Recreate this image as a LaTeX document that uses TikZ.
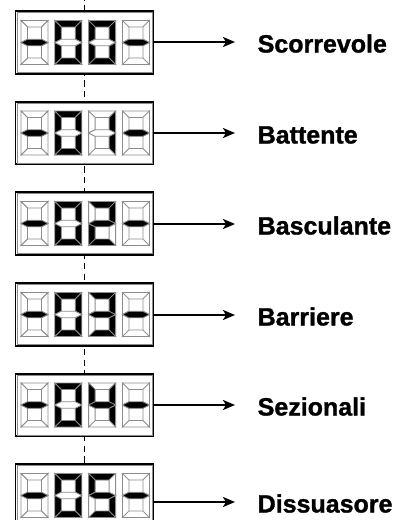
\documentclass[tikz,border=0pt]{standalone}
\usepackage{fontspec}
\setmainfont{Liberation Sans}
\newfontfamily\labfont[FakeBold=1.2]{Liberation Sans Bold}
\usetikzlibrary{arrows.meta}
\tikzset{
  seg0/.style={fill=white, draw=black!45, line width=0.8pt, line join=miter},
  seg1/.style={fill=black, draw=black!45, line width=0.8pt, line join=miter},
  dbox/.style={draw=black, line width=1.8pt, fill=white, rectangle, minimum width=138pt, minimum height=62.5pt, inner sep=0pt},
  innerline/.style={draw=black!45, line width=0.7pt},
  dashline/.style={draw=black, line width=1pt, dash pattern=on 6.5pt off 4.25pt, dash phase=6pt},
  arr/.style={draw=black, line width=2pt, -{Stealth[length=12pt, width=10pt, inset=3pt]}},
  lab/.style={font=\labfont\fontsize{25}{30}\selectfont, inner sep=0pt, anchor=base west}
}
\def\segdraw#1#2#3#4#5#6#7{%
  \filldraw[seg#1] (0,0) -- (27,0) -- (20.5,6.5) -- (6.5,6.5) -- cycle;
  \filldraw[seg#2] (27,0) -- (27,22) -- (20.5,18.75) -- (20.5,6.5) -- cycle;
  \filldraw[seg#3] (27,22) -- (27,44) -- (20.5,37.5) -- (20.5,25.25) -- cycle;
  \filldraw[seg#4] (0,44) -- (27,44) -- (20.5,37.5) -- (6.5,37.5) -- cycle;
  \filldraw[seg#5] (0,22) -- (6.5,25.25) -- (6.5,37.5) -- (0,44) -- cycle;
  \filldraw[seg#6] (0,0) -- (6.5,6.5) -- (6.5,18.75) -- (0,22) -- cycle;
  \filldraw[seg#7] (0,22) -- (6.5,18.75) -- (20.5,18.75) -- (27,22) -- (20.5,25.25) -- (6.5,25.25) -- cycle;
}
\newcommand\segdigit[2]{\begin{scope}[shift={#1}]\segdraw#2\end{scope}}
\newcommand\dispunit[4]{% #1 name, #2 box centre y, #3 third digit pattern, #4 arrow y
  \node[dbox] (b#1) at (84.5,#2) {};
  \draw[innerline] ([shift={(2.3pt,-2.3pt)}]b#1.north west) rectangle ([shift={(-2.3pt,2.3pt)}]b#1.south east);
  \segdigit{(21,#2-22)}{0000001}
  \segdigit{(54.8,#2-22)}{1111110}
  \segdigit{(88.6,#2-22)}{#3}
  \segdigit{(122.4,#2-22)}{0000001}
  \coordinate (a#1) at (235,#4);
  \draw[arr] (b#1.east |- a#1) -- (a#1);
}
\begin{document}
\begin{tikzpicture}[x=1pt,y=-1pt]
\useasboundingbox (0,0) rectangle (406,520);
\coordinate (dtop) at (84.5,0);
\coordinate (dbot) at (84.5,520);
\draw[dashline] (dtop) -- (dbot);
\dispunit{1}{42.5}{1111110}{42}
\dispunit{2}{133}{0110000}{133}
\dispunit{3}{223.5}{1101101}{224}
\dispunit{4}{314.5}{1111001}{315}
\dispunit{5}{405}{0110011}{405}
\dispunit{6}{495.5}{1011011}{502}
\node[lab] (l1) at (257.5,52.5) {Scorrevole};
\node[lab] (l2) at (257.5,143.5) {Battente};
\node[lab] (l3) at (257.5,234.5) {Basculante};
\node[lab] (l4) at (257.5,325.5) {Barriere};
\node[lab] (l5) at (257.5,415.5) {Sezionali};
\node[lab] (l6) at (257.5,512.5) {Dissuasore};
\end{tikzpicture}
\end{document}
